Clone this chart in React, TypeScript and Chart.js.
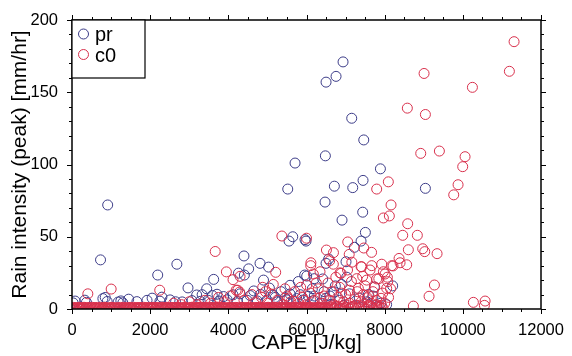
import React, { useEffect, useRef } from 'react';
import { Chart, registerables } from 'chart.js';

Chart.register(...registerables);

const FONT = "'Liberation Sans', Arial, sans-serif";

const seriesNames = ['pr', 'c0'];
const seriesColors = ['#3c3c88', '#d8304c'];
const xMin = 0, xMax = 12000, xMajor = 2000, xMinor = 500;
const yMin = 0, yMax = 200, yMajor = 50, yMinor = 10;
const xTitle = 'CAPE [J/kg]';
const yTitle = 'Rain intensity (peak) [mm/hr]';

type P = [number, number];

const prUpper: P[] = [
  [6935, 171], [6756, 161], [6500, 157], [7157, 132], [7465, 117], [6483, 106], [5707, 101],
  [7891, 97], [7447, 89], [6713, 85], [7183, 84], [5520, 83], [6474, 74], [9042, 83.5],
  [7438, 67], [6909, 61.5], [7506, 53], [5553, 47], [5648, 50], [5962, 48], [5988, 47],
  [7396, 47], [7226, 42.7], [913, 72], [730, 34], [2193, 23.5], [2683, 31], [4400, 36.7],
  [4520, 27.8], [4260, 24.8], [4410, 23.5], [3625, 20.5], [2968, 14.6], [3446, 14],
  [4811, 31.6], [5030, 29], [4900, 20], [5579, 16.4], [5791, 19], [5954, 23.5], [6005, 22.8],
  [6201, 21], [6415, 20.8], [6568, 34.6], [6500, 31.6], [7011, 32.7], [7030, 22], [6892, 17],
  [6738, 16], [8205, 16], [7736, 15.2], [7583, 10],
];

const prLower: P[] = [
  [30, 4.2], [80, 5.5], [330, 6.1], [370, 4.6], [790, 7.2], [850, 8], [900, 5.2], [1180, 4.8],
  [1250, 5.6], [1300, 4.3], [1660, 5.1], [1920, 6.0], [2250, 5.4], [2300, 8.2], [2510, 6.3],
  [2820, 4.9], [3070, 5.8], [3190, 9.7], [3330, 9.9], [3280, 5.3], [3480, 6.1], [3590, 9.4],
  [3710, 10.2], [3760, 5.5], [3970, 6.4], [4120, 9.8], [4230, 5.2], [4300, 10.5], [4480, 6.0],
  [4560, 9.3], [4740, 5.6], [4820, 10.1], [4990, 6.2], [5150, 9.6], [5250, 5.0], [5500, 6.3],
  [5580, 10.4], [5660, 5.5], [5840, 9.9], [5910, 6.2], [6170, 5.7], [6200, 9.0], [6350, 4.0],
  [6500, 7.5], [6620, 3.2], [6700, 11.8], [6850, 6.0], [6950, 2.5], [7100, 10.5], [7250, 2.2],
  [7350, 7.6], [7550, 5.0], [7700, 9.0], [7800, 1.5], [7900, 4.0], [8050, 3.0], [5200, 8.0],
  [5350, 12.0], [5750, 7.2], [6050, 8.8], [6150, 14.0], [6450, 12.0], [6600, 9.0],
  [1450, 6.8], [2050, 7.5], [2650, 5.0], [3880, 8.6], [4650, 12.5], [5050, 14.5], [5450, 7.8],
];

const c0Upper: P[] = [
  [11311, 185], [11191, 164.5], [9008, 163], [10245, 153.4], [8580, 139], [9042, 134.6],
  [8923, 107.7], [9400, 109.3], [10057, 105.4], [9997, 98.5], [9878, 86], [9767, 79],
  [8094, 88], [7796, 83], [8163, 72], [7967, 63], [8120, 64.4], [8589, 59], [8462, 51],
  [8836, 51], [8606, 41], [8973, 41.7], [9025, 39.7], [9341, 38.3], [8368, 35], [8394, 32],
  [8564, 30.6], [8214, 29.8], [9273, 16.6], [9136, 8.8], [8734, 2], [10270, 4.6], [10570, 5.5],
  [10552, 2.5], [5370, 50.5], [6000, 49], [7055, 46.4], [7465, 42.2], [7665, 39.2], [7093, 37.8],
  [6510, 40.8], [6690, 39], [7160, 32.4], [7410, 29.2], [6112, 32], [6108, 30], [6593, 33.4],
  [6687, 31], [7669, 30], [7925, 31], [8180, 30], [7396, 29.3], [6858, 25], [7967, 25.8],
  [8010, 24.2], [8069, 22], [7626, 27], [7796, 20.8], [7540, 20], [6175, 24.2], [6005, 16.6],
  [7285, 21], [7327, 14.3], [7097, 13], [8052, 14.3], [6346, 25.8], [5212, 25.4], [4879, 15],
  [6884, 24.7], [7438, 22.6], [8078, 18.9], [7745, 15.2], [7907, 7.4], [7557, 7.8], [7787, 2.8],
  [3664, 39.8], [3950, 25.7], [4120, 20.3], [4300, 22.6], [4240, 13], [4290, 11.7], [2245, 13],
  [405, 10.5], [1002, 13.8],
];

const c0Mid: P[] = [
  [4700, 5], [4850, 8], [5000, 4], [5100, 10], [5250, 6], [5400, 3], [5500, 9], [5600, 5],
  [5700, 12], [5800, 4], [5900, 8], [6000, 3], [6100, 11], [6200, 6], [6300, 14], [6400, 4],
  [6450, 9], [6550, 18], [6600, 6], [6650, 12], [6700, 3], [6800, 8], [6850, 15], [6950, 5],
  [7000, 10], [7100, 4], [7150, 19], [7250, 7], [7300, 12], [7400, 5], [7500, 16], [7600, 9],
  [7650, 4], [7700, 12], [7800, 6], [7850, 21], [7950, 11], [8000, 4], [8100, 8], [8150, 14],
  [7050, 27], [6750, 22], [6250, 18], [5850, 15], [5450, 14], [5150, 17], [4950, 12], [4600, 10],
  [4400, 6], [4200, 13], [4050, 9], [3900, 5], [3750, 8], [3550, 4], [3400, 6], [3200, 3],
  [3000, 5], [2800, 3], [2600, 4], [5550, 7], [5950, 6], [6350, 8], [6900, 11], [7450, 10],
];

const c0Band: P[] = [
  [0, 0.5], [40, 1.1], [95, 0.2], [140, 0.8], [190, 1.2], [230, 0.3], [285, 0.9], [330, 0.1],
  [370, 1.0], [425, 0.6], [470, 0.2], [520, 1.2], [560, 0.7], [610, 0.3], [655, 1.1], [700, 0.5],
  [750, 0.0], [800, 0.9], [845, 1.2], [890, 0.4], [940, 0.8], [985, 0.1], [1030, 1.1], [1080, 0.6],
  [1130, 0.3], [1175, 1.0], [1220, 0.5], [1270, 0.0], [1315, 1.2], [1360, 0.7], [1410, 0.2],
  [1460, 0.9], [1500, 1.1], [1550, 0.4], [1600, 0.8], [1645, 0.1], [1690, 1.0], [1740, 0.6],
  [1790, 0.3], [1835, 1.2], [1880, 0.5], [1930, 0.9], [1975, 0.2], [2020, 1.1], [2070, 0.7],
  [2120, 0.0], [2165, 1.0], [2210, 0.4], [2260, 0.8], [2305, 1.2], [2350, 0.3], [2400, 0.9],
  [2450, 0.6], [2495, 0.1], [2540, 1.1], [2590, 0.5], [2640, 0.8], [2685, 0.2], [2730, 1.2],
  [2780, 0.7], [2825, 0.3], [2870, 1.0], [2920, 0.5], [2970, 0.0], [3015, 0.9], [3060, 1.2],
  [3110, 0.4], [3155, 0.8], [3200, 0.1], [3250, 1.1], [3300, 0.6], [3345, 0.3], [3390, 1.0],
  [3440, 0.5], [3485, 1.2], [3530, 0.2], [3580, 0.9], [3630, 0.6], [3675, 1.1], [3720, 0.0],
  [3770, 0.8], [3815, 0.4], [3860, 1.2], [3910, 0.7], [3960, 0.2], [4005, 1.0], [4050, 0.5],
  [4100, 0.9], [4145, 0.1], [4190, 1.1], [4240, 0.6], [4290, 0.3], [4335, 1.2], [4380, 0.8],
  [4430, 0.4], [4475, 1.0], [4520, 0.0], [4570, 0.7], [4620, 1.1], [4665, 0.3], [4710, 0.9],
  [4760, 0.5], [4805, 1.2], [4850, 0.2], [4900, 0.8], [4950, 0.6], [4995, 1.0], [5040, 0.1],
  [5090, 0.9], [5135, 0.4], [5180, 1.2], [5230, 0.7], [5280, 0.3], [5325, 1.1], [5370, 0.5],
  [5420, 0.0], [5465, 0.8], [5510, 1.2], [5560, 0.4], [5610, 0.9], [5655, 0.2], [5700, 1.0],
  [5750, 0.6], [5795, 0.3], [5840, 1.1], [5890, 0.7], [5940, 0.1], [5985, 0.9], [6030, 1.2],
  [6080, 0.5], [6125, 0.8], [6170, 0.2], [6220, 1.0], [6270, 0.6], [6315, 1.2], [6360, 0.3],
  [6410, 0.9], [6455, 0.5], [6500, 1.1], [6560, 0.4], [6620, 1.6], [6690, 0.2], [6750, 2.1],
  [6830, 0.8], [6900, 1.5], [6980, 0.3], [7050, 2.4], [7130, 0.9], [7200, 1.8], [7290, 0.5],
  [7360, 2.6], [7450, 1.2], [7530, 0.2], [7620, 2.0], [7700, 0.7], [7800, 2.9], [7880, 1.0],
  [7960, 0.4],
];

const c0Band2: P[] = [
  [20, 0.7], [68, 0.0], [118, 1.0], [165, 0.4], [210, 0.9], [258, 0.1], [308, 1.2], [350, 0.6],
  [398, 0.3], [448, 1.1], [495, 0.8], [540, 0.0], [585, 1.0], [632, 0.5], [678, 0.2], [725, 1.2],
  [775, 0.6], [822, 0.3], [868, 1.0], [915, 0.0], [962, 0.7], [1008, 1.2], [1055, 0.3], [1105, 0.9],
  [1152, 0.5], [1198, 0.1], [1245, 1.1], [1292, 0.6], [1338, 0.2], [1385, 1.0], [1435, 0.4],
  [1480, 0.8], [1525, 0.0], [1575, 1.2], [1622, 0.5], [1668, 0.9], [1715, 0.3], [1765, 1.1],
  [1812, 0.7], [1858, 0.0], [1905, 1.0], [1952, 0.4], [1998, 0.8], [2045, 0.2], [2095, 1.2],
  [2142, 0.6], [2188, 0.9], [2235, 0.1], [2282, 1.1], [2328, 0.5], [2375, 0.0], [2425, 1.2],
  [2472, 0.3], [2518, 0.7], [2565, 1.0], [2615, 0.2], [2662, 1.1], [2708, 0.6], [2755, 0.4],
  [2802, 0.9], [2848, 0.0], [2895, 1.2], [2945, 0.7], [2992, 0.3], [3038, 1.0], [3085, 0.6],
  [3132, 0.1], [3178, 1.1], [3225, 0.5], [3275, 0.9], [3322, 0.0], [3368, 1.2], [3415, 0.7],
  [3462, 0.3], [3508, 0.8], [3555, 1.1], [3605, 0.2], [3652, 0.9], [3698, 0.4], [3745, 1.2],
  [3792, 0.0], [3838, 0.7], [3885, 1.0], [3935, 0.3], [3982, 0.8], [4028, 0.1], [4075, 1.2],
  [4122, 0.6], [4168, 0.3], [4215, 1.0], [4265, 0.0], [4312, 0.7], [4358, 1.1], [4405, 0.2],
  [4452, 0.9], [4498, 0.5], [4545, 1.2], [4595, 0.3], [4642, 0.8], [4688, 0.0], [4735, 1.1],
  [4782, 0.6], [4828, 0.3], [4875, 1.0], [4925, 0.1], [4972, 0.7], [5018, 1.2], [5065, 0.4],
  [5112, 0.8], [5158, 0.0], [5205, 1.1], [5255, 0.6], [5302, 0.2], [5348, 0.9], [5395, 1.2],
  [5442, 0.4], [5488, 0.7], [5535, 0.1], [5585, 1.0], [5632, 0.6], [5678, 0.3], [5725, 1.2],
  [5772, 0.0], [5818, 0.8], [5865, 0.4], [5915, 1.1], [5962, 0.6], [6008, 0.2], [6055, 0.9],
  [6102, 1.2], [6148, 0.3], [6195, 0.7], [6245, 0.0], [6292, 1.0], [6338, 0.5], [6385, 0.8],
  [6432, 0.2], [6478, 1.1], [6530, 0.6], [6590, 1.4], [6660, 0.9], [6720, 0.3], [6790, 1.7],
  [6870, 0.5], [6940, 2.2], [7010, 1.0], [7090, 0.2], [7170, 1.3], [7250, 2.7], [7330, 0.8],
  [7410, 1.9], [7490, 0.4], [7580, 2.3], [7660, 1.4], [7750, 0.6], [7840, 1.8], [7920, 2.5],
];

const prData = [...prUpper, ...prLower];
const c0Data = [...c0Band, ...c0Band2, ...c0Mid, ...c0Upper];

const decorPlugin = {
  id: 'decor',
  afterDatasetsDraw(chart: any) {
    const { ctx, chartArea, scales } = chart;
    const { left, right, top, bottom } = chartArea;
    const xs = scales.x, ys = scales.y;
    ctx.save();
    ctx.strokeStyle = '#000';
    ctx.lineWidth = 1;
    ctx.beginPath();
    for (let v = xMin; v <= xMax; v += xMinor) {
      const px = Math.round(xs.getPixelForValue(v)) + 0.5;
      const len = v % xMajor === 0 ? 5 : 3;
      ctx.moveTo(px, bottom); ctx.lineTo(px, bottom + len);
      ctx.moveTo(px, top); ctx.lineTo(px, top - len);
    }
    for (let v = yMin; v <= yMax; v += yMinor) {
      const py = Math.round(ys.getPixelForValue(v)) + 0.5;
      const len = v % yMajor === 0 ? 5 : 3;
      ctx.moveTo(left, py); ctx.lineTo(left - len, py);
      ctx.moveTo(right, py); ctx.lineTo(right + len, py);
    }
    ctx.stroke();
    ctx.lineWidth = 1.5;
    ctx.strokeRect(left, top, right - left, bottom - top);
    ctx.restore();
  },
  afterDraw(chart: any) {
    const { ctx, chartArea } = chart;
    const { left, top } = chartArea;
    ctx.save();
    ctx.fillStyle = '#fff';
    ctx.fillRect(left, top, 73, 58);
    ctx.strokeStyle = '#000';
    ctx.lineWidth = 1.2;
    ctx.strokeRect(left, top, 73, 58);
    ctx.font = `20px ${FONT}`;
    ctx.textBaseline = 'middle';
    ctx.textAlign = 'left';
    seriesNames.forEach((name, i) => {
      const cy = top + 14 + i * 20.5;
      ctx.beginPath();
      ctx.strokeStyle = seriesColors[i];
      ctx.lineWidth = 1;
      ctx.arc(left + 11.5, cy, 5, 0, Math.PI * 2);
      ctx.stroke();
      ctx.fillStyle = '#000';
      ctx.fillText(name, left + 23, cy + 1.5);
    });
    ctx.restore();
  },
};

export default function App() {
  const ref = useRef<HTMLCanvasElement>(null);
  useEffect(() => {
    if (!ref.current) return;
    const mk = (name: string, pts: P[], color: string, order: number) => ({
      label: name,
      data: pts.map(([x, y]) => ({ x, y })),
      borderColor: color,
      backgroundColor: 'rgba(0,0,0,0)',
      pointRadius: 5,
      pointBorderWidth: 1,
      pointHoverRadius: 5,
      showLine: false,
      order,
      clip: { left: 0, top: 6, right: 6, bottom: 0 },
    });
    const chart = new Chart(ref.current, {
      type: 'scatter',
      data: {
        datasets: [
          mk(seriesNames[0], prData, seriesColors[0], 1),
          mk(seriesNames[1], c0Data, seriesColors[1], 0),
        ],
      },
      options: {
        animation: false,
        responsive: false,
        devicePixelRatio: 1,
        events: [],
        layout: { padding: { left: 0, top: 20, right: 31, bottom: 0 } },
        plugins: { legend: { display: false }, tooltip: { enabled: false } },
        scales: {
          x: {
            type: 'linear', min: xMin, max: xMax,
            grid: { display: false }, border: { display: false },
            ticks: { stepSize: xMajor, color: '#000', font: { family: FONT, size: 16.5 }, padding: 4, maxRotation: 0, callback: (v: any) => String(v) },
            title: { display: true, text: xTitle, color: '#000', font: { family: FONT, size: 20.5 }, padding: { top: 0, bottom: 0 } },
            afterFit: (s: any) => { s.height = 47; },
          },
          y: {
            type: 'linear', min: yMin, max: yMax,
            grid: { display: false }, border: { display: false },
            ticks: { stepSize: yMajor, color: '#000', font: { family: FONT, size: 16.5 }, padding: 6, callback: (v: any) => String(v) },
            title: { display: true, text: yTitle, color: '#000', font: { family: FONT, size: 21 }, padding: { top: 8, bottom: 0 } },
            afterFit: (s: any) => { s.width = 72; },
          },
        },
      },
      plugins: [decorPlugin],
    } as any);
    return () => chart.destroy();
  }, []);
  return (
    <div style={{ position: 'fixed', left: 0, top: 0, width: 572, height: 356, background: '#fff' }}>
      <canvas ref={ref} width={572} height={356} style={{ display: 'block' }} />
    </div>
  );
}
